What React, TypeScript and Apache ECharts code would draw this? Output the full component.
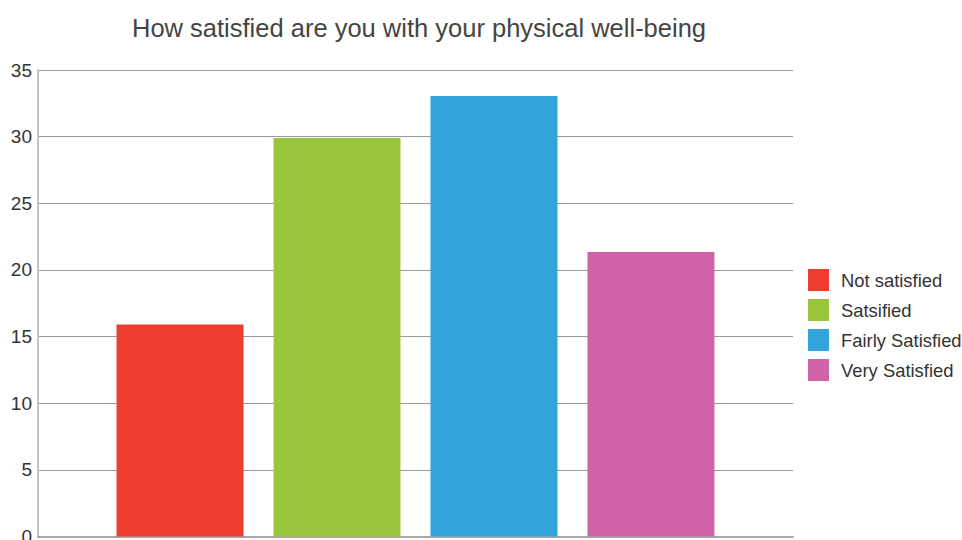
import React, { useEffect, useRef } from "react";
import * as echarts from "echarts";

const categories = [""];
const seriesNames = ["Not satisfied", "Satsified", "Fairly Satisfied", "Very Satisfied"];
const seriesValues = [15.9, 29.9, 33.05, 21.35];
const seriesColors = ["#F03D32", "#9AC63E", "#33A3DC", "#D063A7"];
const yTicks = { min: 0, max: 35, interval: 5 };

export default function App() {
  const ref = useRef<HTMLDivElement>(null);
  useEffect(() => {
    document.body.style.margin = "0";
    const chart = echarts.init(ref.current!, null, { renderer: "svg" });
    chart.setOption({
      animation: false,
      textStyle: { fontFamily: "Liberation Sans, Arial, sans-serif" },
      title: {
        text: "How satisfied are you with your physical well-being",
        left: 414,
        textAlign: "center",
        top: 10,
        textStyle: { fontSize: 25.5, fontWeight: "normal", color: "#444444" },
      },
      legend: {
        orient: "vertical",
        left: 808,
        top: 269,
        padding: 0,
        itemWidth: 21,
        itemHeight: 22,
        itemGap: 8,
        icon: "rect",
        data: seriesNames,
        textStyle: { fontSize: 18.4, color: "#333333", padding: [0, 0, 0, 7] },
      },
      grid: {
        left: 38,
        right: 169,
        top: 70,
        bottom: 3.5,
        containLabel: false,
        outerBoundsMode: "none",
      },
      xAxis: {
        type: "category",
        data: categories,
        axisTick: { show: false },
        axisLabel: { show: false },
        axisLine: { lineStyle: { color: "#a8a8a8", width: 2 } },
      },
      yAxis: {
        type: "value",
        min: yTicks.min,
        max: yTicks.max,
        interval: yTicks.interval,
        axisLine: { show: true, lineStyle: { color: "#c4c4c4", width: 2 } },
        axisTick: { show: false },
        axisLabel: { fontSize: 19, color: "#333333", margin: 6 },
        splitLine: { lineStyle: { color: "#9a9a9a", width: 1 } },
      },
      series: seriesNames.map((name, i) => ({
        name,
        type: "bar",
        data: [seriesValues[i]],
        barWidth: 127,
        barGap: "23.6%",
        itemStyle: { color: seriesColors[i] },
      })),
    });
    return () => chart.dispose();
  }, []);
  return <div ref={ref} style={{ width: 962, height: 540 }} />;
}
